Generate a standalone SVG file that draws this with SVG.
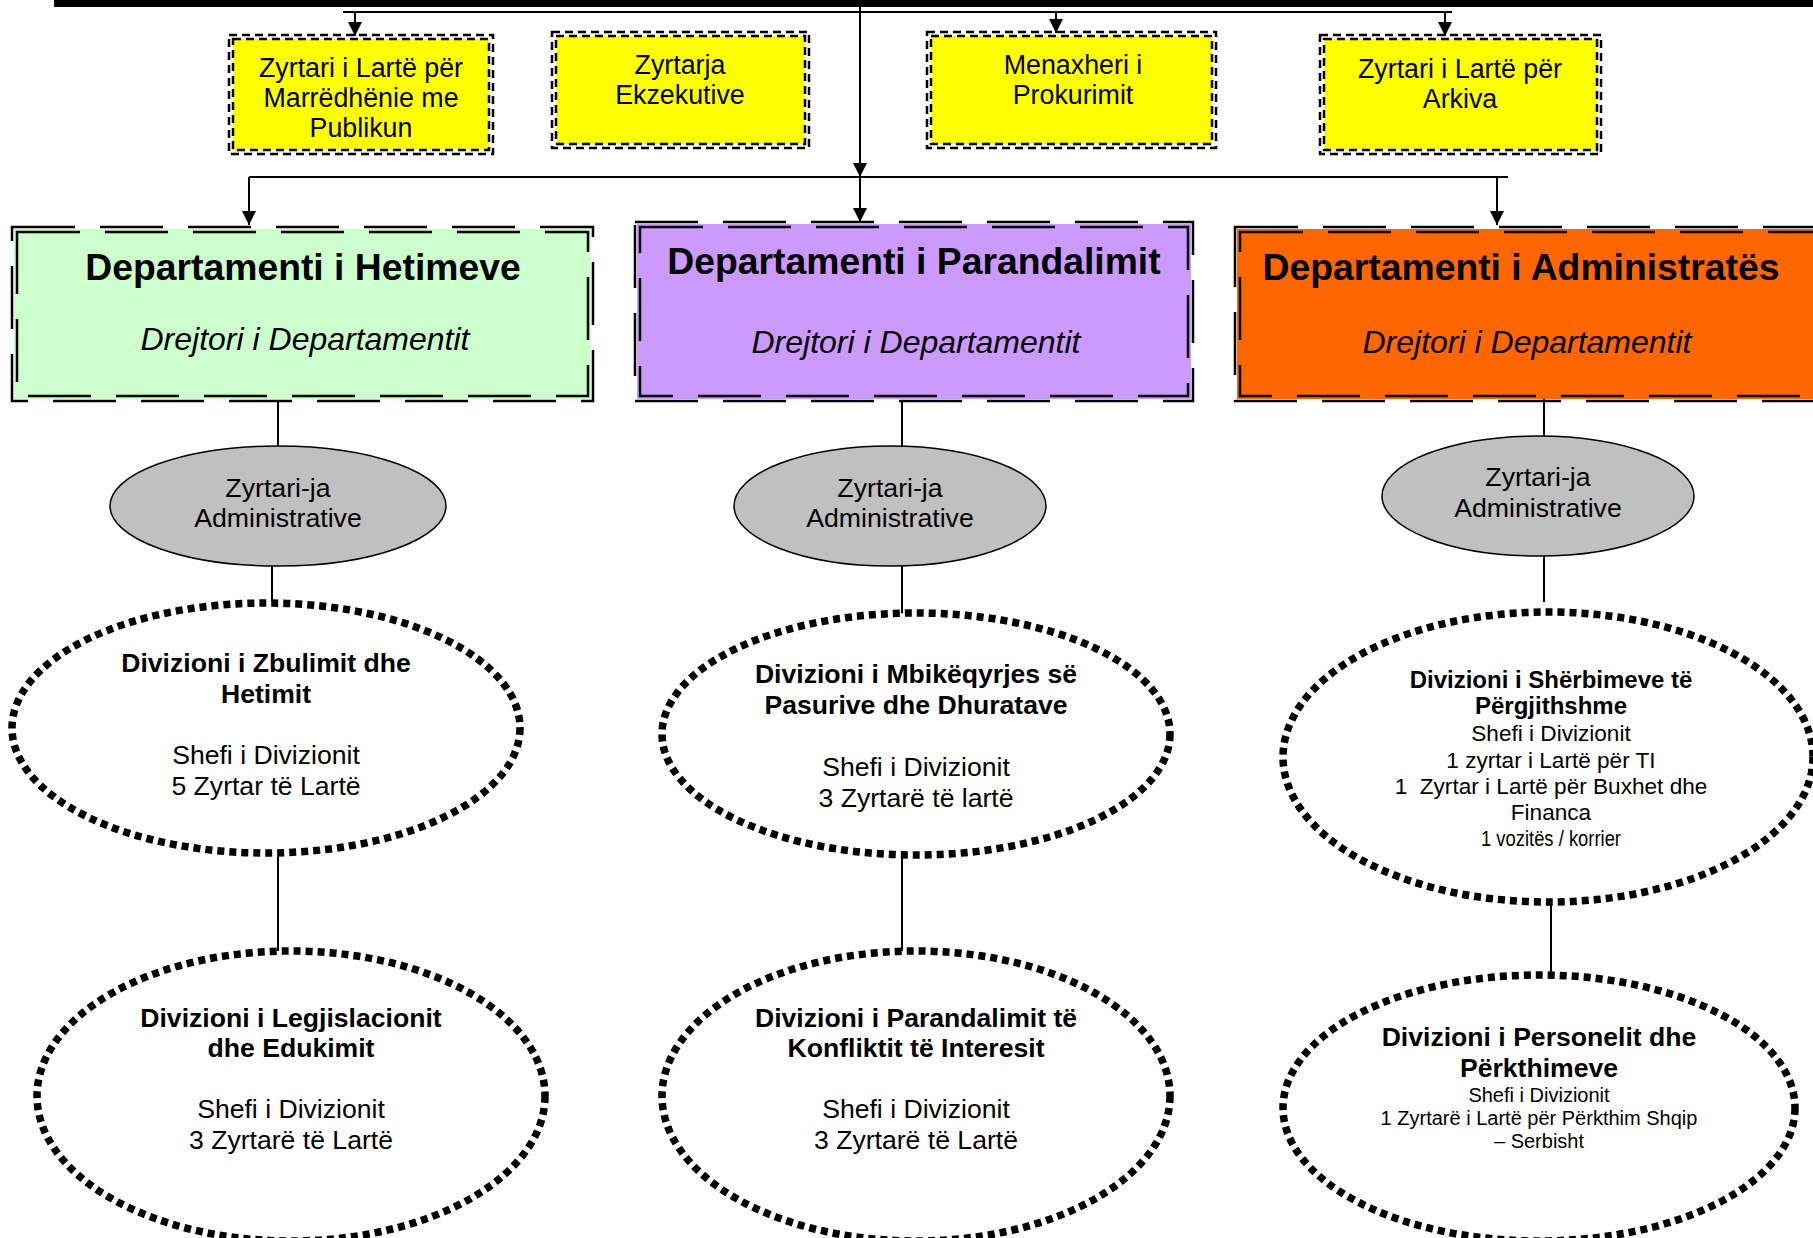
<svg xmlns="http://www.w3.org/2000/svg" width="1813" height="1238" viewBox="0 0 1813 1238">
<defs>
<marker id="arr" viewBox="0 0 10 10" refX="10" refY="5" markerWidth="14" markerHeight="14" markerUnits="userSpaceOnUse" orient="auto">
<path d="M0,0 L10,5 L0,10 Z" fill="#000"/>
</marker>
<style>
.t{font-family:"Liberation Sans",Arial,sans-serif;fill:#000;text-anchor:middle}
.yb{font-size:26.8px}
.dt{font-size:37.3px;font-weight:bold}
.ds{font-size:32px;font-style:italic}
.el{font-size:26.7px}
.b26{font-size:26.6px;font-weight:bold}
.r26{font-size:26.6px}
.b24{font-size:24px;font-weight:bold}
.r22{font-size:22.6px}
.r20{font-size:20px}
.ydash{fill:none;stroke:#000;stroke-width:2.5;stroke-dasharray:8 5}
.yfill{fill:#FFFF00;stroke:#000;stroke-width:2.5;stroke-dasharray:8 5}
.ddash{fill:none;stroke:#000;stroke-width:2.5;stroke-dasharray:63 25}
.gray{fill:#C0C0C0;stroke:#000;stroke-width:1.5}
.dot{fill:#fff;stroke:#000;stroke-width:7.5;stroke-dasharray:7 5}
.ln{stroke:#000;stroke-width:2;fill:none}
</style>
</defs>
<rect x="0" y="0" width="1813" height="1238" fill="#fff"/>

<g id="connectors">
<rect x="54" y="0" width="1759" height="7" fill="#000"/>
<line class="ln" x1="343" y1="12" x2="1452" y2="12"/>
<line class="ln" x1="860" y1="7" x2="860" y2="177" marker-end="url(#arr)"/>
<line class="ln" x1="860" y1="177" x2="860" y2="222" marker-end="url(#arr)"/>
<line class="ln" x1="355" y1="12" x2="355" y2="36" marker-end="url(#arr)"/>
<line class="ln" x1="1056" y1="12" x2="1056" y2="33" marker-end="url(#arr)"/>
<line class="ln" x1="1445" y1="12" x2="1445" y2="36" marker-end="url(#arr)"/>
<line class="ln" x1="249" y1="177" x2="1508" y2="177"/>
<line class="ln" x1="249" y1="177" x2="249" y2="225" marker-end="url(#arr)"/>
<line class="ln" x1="1497" y1="177" x2="1497" y2="225" marker-end="url(#arr)"/>
<line class="ln" x1="278" y1="401" x2="278" y2="446"/>
<line class="ln" x1="902" y1="401" x2="902" y2="446"/>
<line class="ln" x1="1544" y1="390" x2="1544" y2="436"/>
<line class="ln" x1="272" y1="566" x2="272" y2="602"/>
<line class="ln" x1="902" y1="566" x2="902" y2="614"/>
<line class="ln" x1="1544" y1="556" x2="1544" y2="602"/>
<line class="ln" x1="278" y1="856" x2="278" y2="951"/>
<line class="ln" x1="902" y1="856" x2="902" y2="951"/>
<line class="ln" x1="1551" y1="902" x2="1551" y2="975"/>
</g>

<g id="yellow1">
<rect class="ydash" x="229" y="35" width="264" height="119"/>
<rect class="yfill" x="233" y="39" width="256" height="111"/>
<text class="t yb" x="361" y="77">Zyrtari i Lartë për</text>
<text class="t yb" x="361" y="107">Marrëdhënie me</text>
<text class="t yb" x="361" y="137">Publikun</text>
</g>
<g id="yellow2">
<rect class="ydash" x="552" y="32" width="257" height="116"/>
<rect class="yfill" x="556" y="36" width="249" height="108"/>
<text class="t yb" x="680" y="74">Zyrtarja</text>
<text class="t yb" x="680" y="104">Ekzekutive</text>
</g>
<g id="yellow3">
<rect class="ydash" x="927" y="32" width="289" height="116"/>
<rect class="yfill" x="931" y="36" width="281" height="108"/>
<text class="t yb" x="1073" y="74">Menaxheri i</text>
<text class="t yb" x="1073" y="104">Prokurimit</text>
</g>
<g id="yellow4">
<rect class="ydash" x="1320" y="35" width="281" height="119"/>
<rect class="yfill" x="1324" y="39" width="273" height="111"/>
<text class="t yb" x="1460" y="78">Zyrtari i Lartë për</text>
<text class="t yb" x="1460" y="108">Arkiva</text>
</g>

<g id="dept1">
<rect x="14" y="229" width="577" height="170" fill="#CCFFCC"/>
<rect class="ddash" x="12" y="227" width="581" height="174"/>
<rect class="ddash" x="17" y="232" width="571" height="164"/>
<text class="t dt" x="303" y="280">Departamenti i Hetimeve</text>
<text class="t ds" x="305" y="350">Drejtori i Departamentit</text>
</g>
<g id="dept2">
<rect x="637" y="224" width="554" height="175" fill="#CC99FF"/>
<rect class="ddash" x="635" y="222" width="558" height="179"/>
<rect class="ddash" x="640" y="227" width="548" height="169"/>
<text class="t dt" x="914" y="274">Departamenti i Parandalimit</text>
<text class="t ds" x="916" y="353">Drejtori i Departamentit</text>
</g>
<g id="dept3">
<rect x="1237" y="229" width="600" height="170" fill="#FF6600"/>
<rect class="ddash" x="1235" y="227" width="604" height="174"/>
<rect class="ddash" x="1240" y="232" width="594" height="164"/>
<text class="t dt" x="1521" y="280">Departamenti i Administratës</text>
<text class="t ds" x="1527" y="353">Drejtori i Departamentit</text>
</g>

<g id="admin1">
<ellipse class="gray" cx="278" cy="506" rx="168" ry="60"/>
<text class="t el" x="278" y="497">Zyrtari-ja</text>
<text class="t el" x="278" y="527">Administrative</text>
</g>
<g id="admin2">
<ellipse class="gray" cx="890" cy="506" rx="156" ry="60"/>
<text class="t el" x="890" y="497">Zyrtari-ja</text>
<text class="t el" x="890" y="527">Administrative</text>
</g>
<g id="admin3">
<ellipse class="gray" cx="1538" cy="496" rx="156" ry="60"/>
<text class="t el" x="1538" y="486">Zyrtari-ja</text>
<text class="t el" x="1538" y="517">Administrative</text>
</g>

<g id="div1">
<ellipse class="dot" cx="266" cy="728" rx="254" ry="125"/>
<text class="t b26" x="266" y="672">Divizioni i Zbulimit dhe</text>
<text class="t b26" x="266" y="703">Hetimit</text>
<text class="t r26" x="266" y="764">Shefi i Divizionit</text>
<text class="t r26" x="266" y="795">5 Zyrtar të Lartë</text>
</g>
<g id="div2">
<ellipse class="dot" cx="916" cy="734" rx="254" ry="121"/>
<text class="t b26" x="916" y="683">Divizioni i Mbikëqyrjes së</text>
<text class="t b26" x="916" y="714">Pasurive dhe Dhuratave</text>
<text class="t r26" x="916" y="776">Shefi i Divizionit</text>
<text class="t r26" x="916" y="807">3 Zyrtarë të lartë</text>
</g>
<g id="div3">
<ellipse class="dot" cx="1548" cy="757" rx="265" ry="145"/>
<text class="t b24" x="1551" y="688">Divizioni i Shërbimeve të</text>
<text class="t b24" x="1551" y="714">Përgjithshme</text>
<text class="t r22" x="1551" y="741">Shefi i Divizionit</text>
<text class="t r22" x="1551" y="768">1 zyrtar i Lartë për TI</text>
<text class="t r22" x="1551" y="794">1&#160; Zyrtar i Lartë për Buxhet dhe</text>
<text class="t r22" x="1551" y="820">Financa</text>
<text class="t r22" x="1551" y="846" textLength="140" lengthAdjust="spacingAndGlyphs">1 vozitës / korrier</text>
</g>
<g id="div4">
<ellipse class="dot" cx="291" cy="1096" rx="254" ry="145"/>
<text class="t b26" x="291" y="1027">Divizioni i Legjislacionit</text>
<text class="t b26" x="291" y="1057">dhe Edukimit</text>
<text class="t r26" x="291" y="1118">Shefi i Divizionit</text>
<text class="t r26" x="291" y="1149">3 Zyrtarë të Lartë</text>
</g>
<g id="div5">
<ellipse class="dot" cx="916" cy="1096" rx="254" ry="145"/>
<text class="t b26" x="916" y="1027">Divizioni i Parandalimit të</text>
<text class="t b26" x="916" y="1057">Konfliktit të Interesit</text>
<text class="t r26" x="916" y="1118">Shefi i Divizionit</text>
<text class="t r26" x="916" y="1149">3 Zyrtarë të Lartë</text>
</g>
<g id="div6">
<ellipse class="dot" cx="1539" cy="1108" rx="256" ry="133"/>
<text class="t b26" x="1539" y="1046">Divizioni i Personelit dhe</text>
<text class="t b26" x="1539" y="1077">Përkthimeve</text>
<text class="t r20" x="1539" y="1102">Shefi i Divizionit</text>
<text class="t r20" x="1539" y="1125">1 Zyrtarë i Lartë për Përkthim Shqip</text>
<text class="t r20" x="1539" y="1148">– Serbisht</text>
</g>
</svg>
